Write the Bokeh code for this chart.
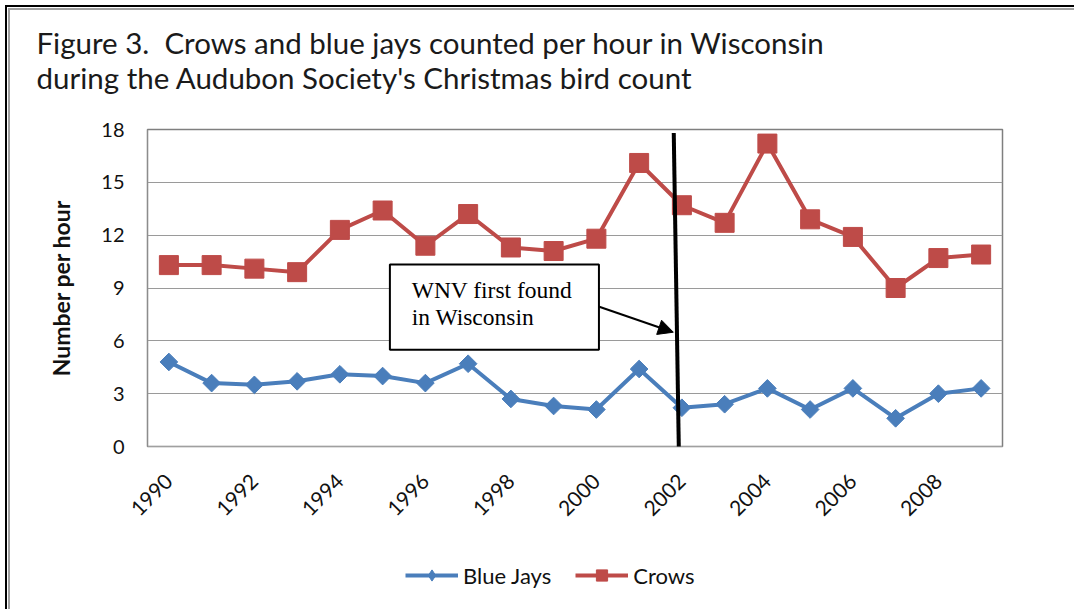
import math

from bokeh.embed import file_html
from bokeh.layouts import column
from bokeh.models import (Arrow, BoxAnnotation, FixedTicker, Label, Legend,
                          LegendItem, NormalHead, Range1d)
from bokeh.plotting import figure
from bokeh.resources import INLINE

# Christmas bird count, birds counted per party-hour in Wisconsin
years = list(range(1990, 2010))
blue_jays = [4.8, 3.6, 3.5, 3.7, 4.1, 4.0, 3.6, 4.7, 2.7, 2.3,
             2.1, 4.4, 2.2, 2.4, 3.3, 2.1, 3.3, 1.6, 3.0, 3.3]
crows = [10.3, 10.3, 10.1, 9.9, 12.3, 13.4, 11.4, 13.2, 11.3, 11.1,
         11.8, 16.1, 13.7, 12.7, 17.2, 12.9, 11.9, 9.0, 10.7, 10.9]

y_ticks = [0, 3, 6, 9, 12, 15, 18]
x_ticks = [1990, 1992, 1994, 1996, 1998, 2000, 2002, 2004, 2006, 2008]

title_lines = ["Figure 3.\u00a0 Crows and blue jays counted per hour in Wisconsin",
               "during the Audubon Society's Christmas bird count"]
wnv_year = 2002
note_lines = ["WNV first found", "in Wisconsin"]

BLUE = "#4A7EBB"
RED = "#BE4B48"
SANS = "Lato"
SERIF = "Liberation Serif"
INK = "#111111"


def blank_strip(height):
    """A full-width strip whose plotting area is the whole canvas."""
    s = figure(width=1074, height=height, output_backend="svg",
               toolbar_location=None, x_axis_location=None, y_axis_location=None,
               x_range=Range1d(0, 1), y_range=Range1d(0, 1),
               min_border=0, frame_align=False)
    s.grid.grid_line_color = None
    s.outline_line_color = None
    s.background_fill_color = None
    s.border_fill_color = None
    return s


# ---- heading -------------------------------------------------------------
head = blank_strip(110)
for txt, yb in zip(title_lines, [68, 33]):
    head.add_layout(Label(x=36, y=yb, x_units="screen", y_units="screen",
                          text=txt, text_font=SANS, text_font_size="29.5px",
                          text_color="#1a1a1a", text_baseline="alphabetic"))

# ---- main chart ----------------------------------------------------------
p = figure(frame_width=855, frame_height=317, output_backend="svg",
           toolbar_location=None, frame_align=False,
           x_range=Range1d(years[0] - 0.5, years[-1] + 0.5),
           y_range=Range1d(y_ticks[0], y_ticks[-1]),
           min_border_left=147, min_border_right=72,
           min_border_top=19, min_border_bottom=100)
p.border_fill_color = None
p.background_fill_color = "white"
p.outline_line_color = "#7f7f7f"
p.outline_line_width = 1.5

p.xaxis.ticker = FixedTicker(ticks=x_ticks)
p.yaxis.ticker = FixedTicker(ticks=y_ticks)
p.xgrid.grid_line_color = None
p.ygrid.grid_line_color = "#9a9a9a"
p.ygrid.grid_line_width = 1.2
for ax in (p.xaxis, p.yaxis):
    ax.major_tick_line_color = None
    ax.minor_tick_line_color = None
    ax.major_label_text_font = SANS
    ax.major_label_text_color = INK
p.yaxis.major_label_text_font_size = "20px"
p.xaxis.major_label_text_font_size = "21px"
p.xaxis.axis_line_color = "#a0a0a0"
p.yaxis.axis_line_color = "#8c8c8c"
p.xaxis.major_label_orientation = math.pi / 4
p.xaxis.major_label_standoff = 25
p.yaxis.major_label_standoff = 17
p.yaxis.axis_label = "Number per hour"
p.yaxis.axis_label_text_font = SANS
p.yaxis.axis_label_text_font_style = "bold"
p.yaxis.axis_label_text_font_size = "23px"
p.yaxis.axis_label_text_color = INK
p.yaxis.axis_label_standoff = 23

p.line(years, blue_jays, line_color=BLUE, line_width=4)
p.scatter(years, blue_jays, marker="square", angle=math.pi / 4, size=12.5,
          fill_color=BLUE, line_color=BLUE)
p.line(years, crows, line_color=RED, line_width=4)
p.scatter(years, crows, marker="square", size=19, fill_color=RED, line_color=RED)

# year West Nile virus reached the state
p.add_layout(Arrow(end=None, x_start=wnv_year - 0.19, y_start=17.8,
                   x_end=wnv_year - 0.07, y_end=-0.32,
                   line_color="black", line_width=4))

# callout box with pointer to the line
p.add_layout(BoxAnnotation(left=1995.17, right=2000.06, top=10.34, bottom=5.49,
                           fill_color="white", fill_alpha=1.0,
                           line_color="black", line_width=2, line_alpha=1.0))
for txt, yb in zip(note_lines, [8.90, 7.36]):
    p.add_layout(Label(x=1995.68, y=yb, text=txt, text_font=SERIF,
                       text_font_size="23.5px", text_color="black",
                       text_baseline="alphabetic"))
p.add_layout(Arrow(end=NormalHead(size=15, fill_color="black", line_color="black"),
                   x_start=2000.05, y_start=7.95, x_end=2001.80, y_end=6.49,
                   line_color="black", line_width=2))

# ---- key -----------------------------------------------------------------
# the key strip's ranges keep these series copies out of view; only their
# styling is used for the legend swatches
key = blank_strip(63)
key_bj_line = key.line(years, blue_jays, line_color=BLUE, line_width=4)
key_bj_pts = key.scatter(years, blue_jays, marker="diamond", size=14,
                         fill_color=BLUE, line_color=BLUE)
key_cr_line = key.line(years, crows, line_color=RED, line_width=4)
key_cr_pts = key.scatter(years, crows, marker="square", size=13,
                         fill_color=RED, line_color=RED)
legend = Legend(items=[LegendItem(label="Blue Jays", renderers=[key_bj_line, key_bj_pts]),
                       LegendItem(label="Crows", renderers=[key_cr_line, key_cr_pts])],
                orientation="horizontal", location=(405, 20),
                label_text_font=SANS, label_text_font_size="22px",
                label_text_color=INK, glyph_width=53, glyph_height=28,
                label_standoff=5, label_width=87, spacing=24, padding=0, margin=0,
                border_line_color=None, background_fill_alpha=0)
key.add_layout(legend, "center")

# page rules along the top and left edges
page = column(head, p, key, spacing=0, styles={
    "background": ("linear-gradient(#000,#000) 5px 5px / 2px 100% no-repeat, "
                   "linear-gradient(#000,#000) 5px 5px / 100% 2px no-repeat, "
                   "linear-gradient(#a0a0a0,#a0a0a0) 8px 8px / 2px 100% no-repeat, "
                   "linear-gradient(#a0a0a0,#a0a0a0) 8px 8px / 100% 2px no-repeat, "
                   "#ffffff"),
})

open("out.html", "w").write(file_html(page, INLINE))
